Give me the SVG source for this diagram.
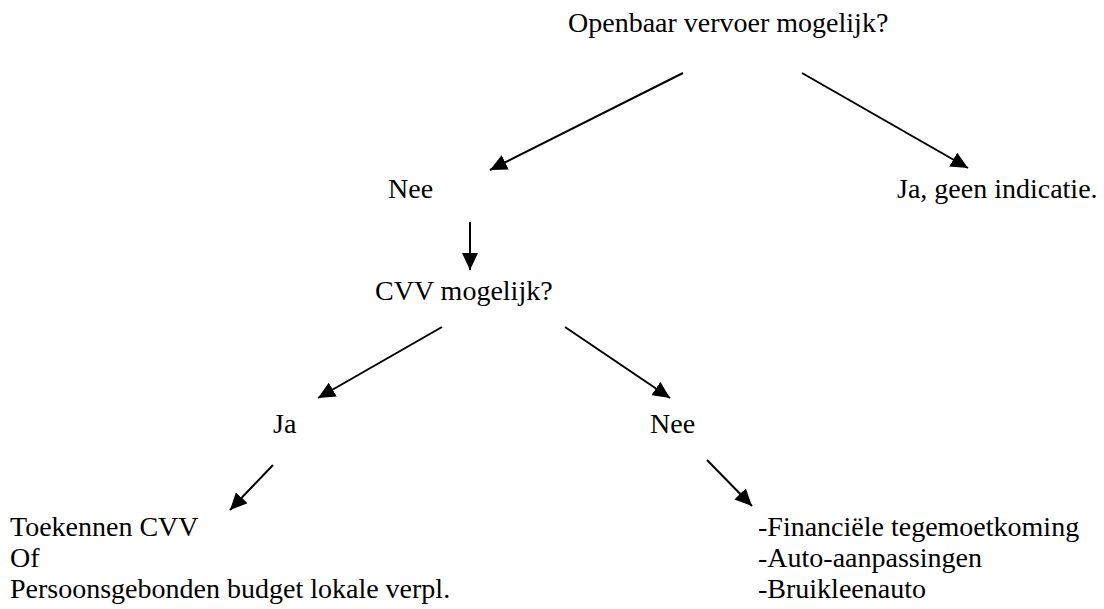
<svg xmlns="http://www.w3.org/2000/svg" width="1104" height="609" viewBox="0 0 1104 609">
  <style>
    text { font-family: "Liberation Serif", Tinos, "Times New Roman", Times, "DejaVu Serif", "Noto Serif", serif; font-size: 28px; fill: #000; }
    .conn line { stroke: #000; stroke-width: 2; marker-end: url(#arrow); }
  </style>
  <defs>
    <marker id="arrow" markerUnits="userSpaceOnUse" markerWidth="18" markerHeight="16" refX="17" refY="8" orient="auto">
      <path d="M0,0 L17,8 L0,16 z" fill="#000"/>
    </marker>
  </defs>
  <rect width="1104" height="609" fill="#fff"/>
  <g id="q1"><text x="568" y="32">Openbaar vervoer mogelijk?</text></g>
  <g id="nee1"><text x="388" y="198">Nee</text></g>
  <g id="ja1"><text x="897" y="198">Ja, geen indicatie.</text></g>
  <g id="q2"><text x="375" y="300">CVV mogelijk?</text></g>
  <g id="ja2"><text x="273" y="433">Ja</text></g>
  <g id="nee2"><text x="650" y="433">Nee</text></g>
  <g id="res1">
    <text x="10" y="536">Toekennen CVV</text>
    <text x="10" y="567">Of</text>
    <text x="10" y="598">Persoonsgebonden budget lokale verpl.</text>
  </g>
  <g id="res2">
    <text x="758" y="536">-Financiële tegemoetkoming</text>
    <text x="758" y="567">-Auto-aanpassingen</text>
    <text x="758" y="598">-Bruikleenauto</text>
  </g>
  <g id="connectors" class="conn">
    <line x1="683" y1="73" x2="490" y2="170"/>
    <line x1="802" y1="73" x2="968" y2="168"/>
    <line x1="470" y1="222" x2="470" y2="270"/>
    <line x1="442" y1="327" x2="318" y2="398"/>
    <line x1="565" y1="327" x2="670" y2="398"/>
    <line x1="273" y1="465" x2="230" y2="510"/>
    <line x1="707" y1="460" x2="752" y2="506"/>
  </g>
</svg>
